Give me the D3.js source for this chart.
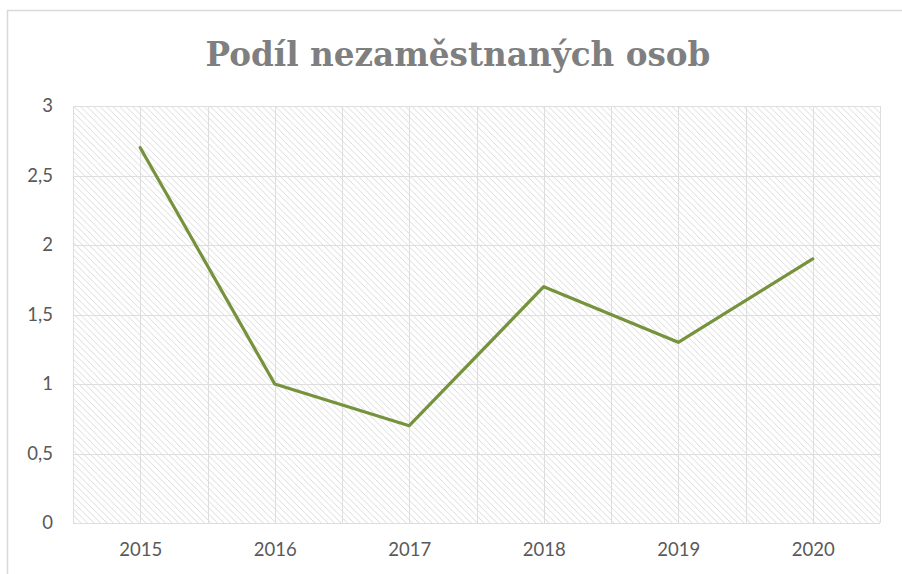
<!DOCTYPE html>
<html><head><meta charset="utf-8">
<script src="https://cdn.jsdelivr.net/npm/d3@7"></script>
<style>
html,body{margin:0;padding:0;background:#fff;}
svg{display:block;}
</style></head>
<body>
<svg id="c" width="902" height="574"></svg>
<script>
const categories = ["2015","2016","2017","2018","2019","2020"];
const values = [2.7, 1.0, 0.7, 1.7, 1.3, 1.9];
const yTicks = [0, 0.5, 1, 1.5, 2, 2.5, 3];
const title = "Podíl nezaměstnaných osob";

const svg = d3.select("#c");
const W = 902, H = 574;
const m = {left: 73, right: 22, top: 106, bottom: 51};
const pw = W - m.left - m.right, ph = H - m.top - m.bottom;

// outer chart border
svg.append("rect").attr("x", 7.5).attr("y", 10.5).attr("width", W).attr("height", H)
  .attr("fill", "#fff").attr("stroke", "#d9d9d9").attr("stroke-width", 1.5);

const defs = svg.append("defs");
const pat = defs.append("pattern").attr("id", "hatch").attr("patternUnits", "userSpaceOnUse")
  .attr("width", 6.5).attr("height", 6.5);
pat.append("rect").attr("width", 6.5).attr("height", 6.5).attr("fill", "#fff");
pat.append("path").attr("d", "M-1,-1 L7.5,7.5 M-1,5.5 L1,7.5 M5.5,-1 L7.5,1")
  .attr("stroke", "#d6d6d6").attr("stroke-width", 0.9);

const x = d3.scalePoint().domain(categories).range([m.left, W - m.right]).padding(0.5);
const step = x.step();
const y = d3.scaleLinear().domain([0, 3]).range([m.top + ph, m.top]);

const g = svg.append("g");
g.append("rect").attr("x", m.left).attr("y", m.top).attr("width", pw).attr("height", ph)
  .attr("fill", "url(#hatch)");

// horizontal gridlines
g.selectAll(".hg").data(yTicks).enter().append("line")
  .attr("x1", m.left).attr("x2", W - m.right)
  .attr("y1", d => Math.round(y(d)) + 0.5).attr("y2", d => Math.round(y(d)) + 0.5)
  .attr("stroke", "#dedede").attr("stroke-width", 1);

// vertical gridlines at category centers and boundaries
const vpos = [];
categories.forEach((c, i) => { vpos.push(x(c) - step / 2); vpos.push(x(c)); });
vpos.push(W - m.right);
g.selectAll(".vg").data(vpos).enter().append("line")
  .attr("x1", d => Math.round(d) + 0.5).attr("x2", d => Math.round(d) + 0.5)
  .attr("y1", m.top).attr("y2", m.top + ph)
  .attr("stroke", "#dedede").attr("stroke-width", 1);

// axes
const yAxis = d3.axisLeft(y).tickValues(yTicks).tickSize(0).tickPadding(20)
  .tickFormat(d => String(d).replace(".", ","));
const ya = svg.append("g").attr("transform", `translate(${m.left},0)`).call(yAxis);
ya.select(".domain").remove();
ya.selectAll("text").attr("fill", "#595959").style("font-family", "Lato, 'Open Sans', sans-serif").style("font-size", "18.5px");

const xAxis = d3.axisBottom(x).tickSize(0).tickPadding(20);
const xa = svg.append("g").attr("transform", `translate(0,${m.top + ph})`).call(xAxis);
xa.select(".domain").remove();
xa.selectAll("text").attr("fill", "#595959").style("font-family", "Lato, 'Open Sans', sans-serif").style("font-size", "18.5px");

// line
const line = d3.line().x((d, i) => x(categories[i])).y(d => y(d));
svg.append("path").datum(values).attr("d", line)
  .attr("fill", "none").attr("stroke", "#76923c").attr("stroke-width", 3.2)
  .attr("stroke-linejoin", "round").attr("stroke-linecap", "round");

// title
const t = svg.append("text").attr("x", 458).attr("y", 66).attr("text-anchor", "middle")
  .attr("fill", "#7f7f7f").style("font-family", "'DejaVu Serif', 'Liberation Serif', serif")
  .style("font-weight", "bold").style("font-size", "34px").text(title);
const tw = t.node().getComputedTextLength();
const target = 505;
t.style("font-size", (34 * target / tw).toFixed(2) + "px");
</script>
</body></html>
